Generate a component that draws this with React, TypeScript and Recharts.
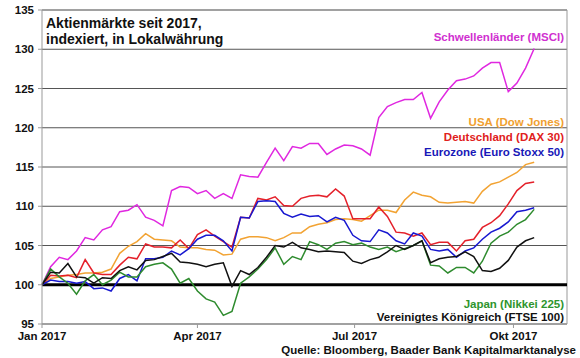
import { CartesianGrid, Line, LineChart, ReferenceLine, XAxis, YAxis } from "recharts";

const days = [
  0, 5, 10, 15, 20, 25, 30, 35, 40, 45, 50, 55, 60, 65, 70, 75, 80, 85, 90, 95,
  100, 105, 110, 115, 120, 125, 130, 135, 140, 145, 150, 155, 160, 165, 170, 175, 180, 185, 190, 195,
  200, 205, 210, 215, 220, 225, 230, 235, 240, 245, 250, 255, 260, 265, 270, 275, 280, 285,
];

const msci = [
  100, 102.3, 103.5, 103.2, 104.3, 106, 105.7, 107, 107.4, 109.3, 109.5, 110.2, 108.6, 108.2, 107.5, 112, 112.5, 112.4, 111.6, 112,
  111, 111.6, 111, 114, 113.8, 113.7, 115.6, 117.4, 115.8, 117.6, 117.4, 118, 118, 116.6, 117.3, 117.8, 117.7, 117.3, 116.5, 121.3,
  122.7, 123.2, 123.6, 123.6, 124.5, 121.2, 123.3, 124.8, 126, 126.2, 126.6, 127.6, 128.3, 128.3, 124.6, 125.7, 127.6, 130.1,
];

const dowJones = [
  100, 100.8, 101, 101.2, 101.3, 101.5, 101.5, 101.6, 102, 104, 104.9, 105.5, 106.5, 105.8, 105.7, 105.6, 104.8, 104.7, 104.7, 104.5,
  104.4, 103.8, 103.9, 105.8, 106.1, 106.1, 106, 105.6, 106, 106.6, 106.6, 107.4, 107.7, 107.9, 108.3, 108.4, 108.3, 108.1, 108.8, 109.5,
  109.5, 109.2, 110.8, 111.8, 111.4, 111.2, 110.5, 110.4, 110.5, 110.6, 110.4, 111.9, 112.8, 113.1, 113.7, 114.3, 115.3, 115.6,
];

const dax = [
  100, 101.2, 101.1, 101.2, 100.9, 103.2, 101.5, 101.3, 101.3, 102.5, 103.5, 103.3, 105.2, 104.8, 104.8, 104.7, 105.7, 104.6, 106.4, 107,
  106.2, 105.5, 104.8, 108.6, 108.5, 111, 110.8, 111.2, 110.1, 110, 111, 111.3, 111.4, 111.2, 112.2, 111.3, 108.4, 108.4, 108.4, 109.9,
  108.7, 106.7, 106.6, 106.2, 106.6, 105.1, 105.4, 105.4, 104.3, 105.6, 105.8, 107.3, 107.9, 108.8, 110.3, 112, 112.9, 113.1,
];

const euroStoxx = [
  100, 100.6, 100.4, 100.4, 100.2, 100.4, 99.5, 99.6, 99.2, 100.8, 101.3, 100.5, 103.3, 103.3, 103.5, 104.3, 103.8, 104.6, 105.8, 106.3,
  106.3, 105.6, 104.3, 108.6, 108.5, 110.6, 110.7, 110.6, 109.1, 108.6, 109, 108.7, 108.8, 108, 108.6, 108.2, 106.3, 105.6, 105.5, 107,
  106.6, 105.6, 105.2, 106.6, 106.2, 104.5, 104.3, 104.5, 103.5, 104.3, 104.7, 105.8, 106.7, 107.2, 108, 109.3, 109.5, 109.8,
];

const nikkei = [
  100, 102, 101, 100.2, 98.8, 100.5, 101.3, 100, 100.6, 101.6, 101, 101, 102.3, 102.6, 102.8, 102, 100.2, 100.8, 99.2, 98.2,
  97.8, 96.1, 96.6, 100.2, 101, 102, 103.2, 104.7, 102.6, 103.6, 103.2, 105.5, 105.1, 104.5, 105.3, 105.5, 105.1, 105.3, 104.8, 104.5,
  104.8, 104.2, 104.6, 105, 105.6, 102.5, 102.4, 101.5, 102.2, 102.2, 101.5, 103, 105.3, 106.2, 106.7, 107.7, 108.3, 109.6,
];

const ftse = [
  100, 101.6, 101.5, 102.7, 101, 100.9, 100.2, 100.9, 100.8, 101.8, 102.3, 101.9, 103.1, 103.2, 103.6, 104, 102.9, 102.8, 102.6, 102.3,
  102.6, 102.8, 99.8, 101.8, 101.3, 102.2, 103.5, 105, 104.8, 105.4, 104.7, 104.5, 104.2, 104.3, 104.2, 104.1, 103, 102.7, 103.2, 103.5,
  104.2, 105, 104.5, 105, 105.6, 102.8, 103.3, 103.5, 103.6, 104.2, 103.6, 101.8, 101.7, 102.1, 103.1, 104.8, 105.6, 106,
];

const monthTicks = [0, 90, 181, 273];
const monthLabels = ["Jan 2017", "Apr 2017", "Jul 2017", "Okt 2017"];
const yTicks = [95, 100, 105, 110, 115, 120, 125, 130, 135];

const series = [
  { key: "msci", name: "Schwellenländer (MSCI)", color: "#E028E0", text: "#D030D0" },
  { key: "dow", name: "USA (Dow Jones)", color: "#F2A333", text: "#F0A030" },
  { key: "dax", name: "Deutschland (DAX 30)", color: "#E4202A", text: "#E02020" },
  { key: "stoxx", name: "Eurozone (Euro Stoxx 50)", color: "#1818D0", text: "#1818B8" },
  { key: "nikkei", name: "Japan (Nikkei 225)", color: "#2E8B2E", text: "#2E952E" },
  { key: "ftse", name: "Vereinigtes Königreich (FTSE 100)", color: "#111111", text: "#111111" },
];

const data = days.map((day, i) => ({
  day,
  msci: msci[i],
  dow: dowJones[i],
  dax: dax[i],
  stoxx: euroStoxx[i],
  nikkei: nikkei[i],
  ftse: ftse[i],
}));

const font = "'Liberation Sans', Arial, sans-serif";

// Beschriftungen rechtsbündig im Diagramm
const labelY: Record<string, number> = { msci: 41, dow: 126, dax: 141, stoxx: 156, nikkei: 308, ftse: 321 };

export default function App() {
  return (
    <div style={{ position: "absolute", left: 0, top: 0, width: 580, height: 358, background: "#fff", fontFamily: font }}>
      <LineChart width={580} height={358} data={data} margin={{ top: 10, right: 13, left: 0, bottom: 0 }}>
        <CartesianGrid vertical={false} stroke="#555" />
        <XAxis
          dataKey="day"
          type="number"
          domain={[0, 304]}
          ticks={monthTicks}
          tickFormatter={(v: number) => monthLabels[monthTicks.indexOf(v)]}
          height={34}
          stroke="#999"
          tickSize={4}
          tickMargin={4}
          tick={{ fill: "#111", fontSize: 11.5, fontWeight: 700, fontFamily: font }}
        />
        <YAxis
          type="number"
          domain={[95, 135]}
          ticks={yTicks}
          width={42}
          stroke="#999"
          tickSize={4}
          tickMargin={4}
          interval={0}
          tick={{ fill: "#111", fontSize: 11.5, fontWeight: 700, fontFamily: font }}
        />
        <ReferenceLine y={135} stroke="#999" />
        <ReferenceLine x={304} stroke="#999" />
        <ReferenceLine y={100} stroke="#000" strokeWidth={3} />
        {series.map((s) => (
          <Line
            key={s.key}
            type="linear"
            dataKey={s.key}
            name={s.name}
            stroke={s.color}
            strokeWidth={1.5}
            dot={false}
            isAnimationActive={false}
          />
        ))}
      </LineChart>
      <svg width={580} height={358} style={{ position: "absolute", left: 0, top: 0, pointerEvents: "none" }}>
        <text x={46} y={28} fontSize={14} fontWeight={700} fontFamily={font} fill="#111">
          Aktienmärkte seit 2017,
        </text>
        <text x={46} y={44} fontSize={14} fontWeight={700} fontFamily={font} fill="#111">
          indexiert, in Lokalwährung
        </text>
        {series.map((s) => (
          <text
            key={s.key}
            x={564}
            y={labelY[s.key]}
            textAnchor="end"
            fontSize={11.5}
            fontWeight={700}
            fontFamily={font}
            fill={s.text}
          >
            {s.name}
          </text>
        ))}
        <text x={576} y={354} textAnchor="end" fontSize={11.5} fontWeight={700} fontFamily={font} fill="#111">
          Quelle: Bloomberg, Baader Bank Kapitalmarktanalyse
        </text>
      </svg>
    </div>
  );
}
